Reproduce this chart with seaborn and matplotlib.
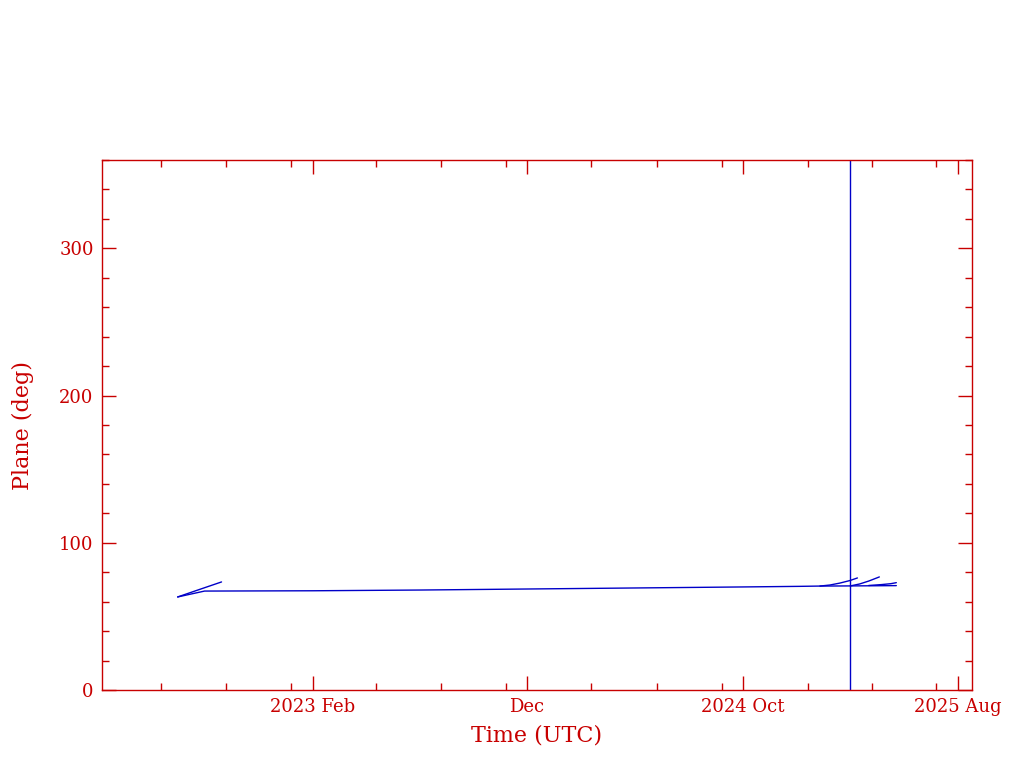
import numpy as np
import pandas as pd
import seaborn as sns
import matplotlib.pyplot as plt
import matplotlib.dates as mdates
from matplotlib.ticker import MultipleLocator, FixedLocator


# plane angle tracks, one list per drawn segment
seg_a_dates = ["2022-07-25", "2022-08-20", "2022-09-25"]
seg_a_vals = [63.2, 67.5, 73.4]

seg_b_dates = ["2022-07-25", "2022-09-01", "2023-02-01", "2023-07-02", "2023-12-01",
               "2024-05-01", "2024-10-01", "2024-12-20", "2025-01-18", "2025-03-02",
               "2025-05-06"]
seg_b_vals = [63.2, 67.2, 67.4, 67.9, 68.6, 69.3, 70.0, 70.4, 70.6, 70.7, 70.9]

seg_c_dates = ["2025-01-18", "2025-02-01", "2025-02-15", "2025-03-01", "2025-03-12"]
seg_c_vals = [70.6, 71.3, 72.6, 74.3, 76.1]

seg_d_dates = ["2025-03-02", "2025-03-15", "2025-03-28", "2025-04-12"]
seg_d_vals = [70.7, 72.0, 74.0, 76.8]

seg_e_dates = ["2025-03-28", "2025-04-15", "2025-04-28", "2025-05-06"]
seg_e_vals = [71.0, 71.6, 72.2, 72.9]

event_date = "2025-03-02"

tick_dates = ["2023-02-01", "2023-12-01", "2024-10-01", "2025-08-01"]
tick_labels = ["2023 Feb", "Dec", "2024 Oct", "2025 Aug"]
minor_dates = ["2022-07-01", "2022-10-01", "2023-01-01",
               "2023-05-01", "2023-08-01", "2023-11-01",
               "2024-03-01", "2024-06-01", "2024-09-01",
               "2025-01-01", "2025-04-01", "2025-07-01"]

xlim = ("2022-04-09", "2025-08-21")
ylim = (0, 360)

rows = []
for name, ds, vs in [("a", seg_a_dates, seg_a_vals), ("b", seg_b_dates, seg_b_vals),
                     ("c", seg_c_dates, seg_c_vals), ("d", seg_d_dates, seg_d_vals),
                     ("e", seg_e_dates, seg_e_vals)]:
    for d, v in zip(ds, vs):
        rows.append({"time": pd.Timestamp(d), "plane": v, "seg": name})
df = pd.DataFrame(rows)

red = "#c80000"
blue = "#0000c8"

sns.set_theme(style="white")
plt.rcParams['font.family'] = ['DejaVu Serif']

fig = plt.figure(figsize=(10.24, 7.68), dpi=100)
ax = fig.add_axes([102 / 1024, 78 / 768, 870 / 1024, 530 / 768])

sns.lineplot(data=df, x="time", y="plane", units="seg", estimator=None,
             color=blue, linewidth=1, ax=ax)
ax.axvline(pd.Timestamp(event_date), color=blue, linewidth=1)

ax.set_xlim(pd.Timestamp(xlim[0]), pd.Timestamp(xlim[1]))
ax.set_ylim(*ylim)

ax.xaxis.set_major_locator(FixedLocator([mdates.date2num(pd.Timestamp(d)) for d in tick_dates]))
ax.xaxis.set_minor_locator(FixedLocator([mdates.date2num(pd.Timestamp(d)) for d in minor_dates]))
ax.set_xticklabels(tick_labels)
ax.yaxis.set_major_locator(MultipleLocator(100))
ax.yaxis.set_minor_locator(MultipleLocator(20))

for s in ax.spines.values():
    s.set_color(red)
    s.set_linewidth(1)
ax.tick_params(which="both", direction="in", top=True, right=True, bottom=True, left=True,
               color=red, labelcolor=red, labelsize=13, width=1)
ax.tick_params(which="major", length=10, pad=6)
ax.tick_params(which="minor", length=5)

ax.set_xlabel("Time (UTC)", color=red, fontsize=16, labelpad=6)
ax.set_ylabel("Plane (deg)", color=red, fontsize=16, labelpad=18)

fig.savefig("out.png", dpi=100)
